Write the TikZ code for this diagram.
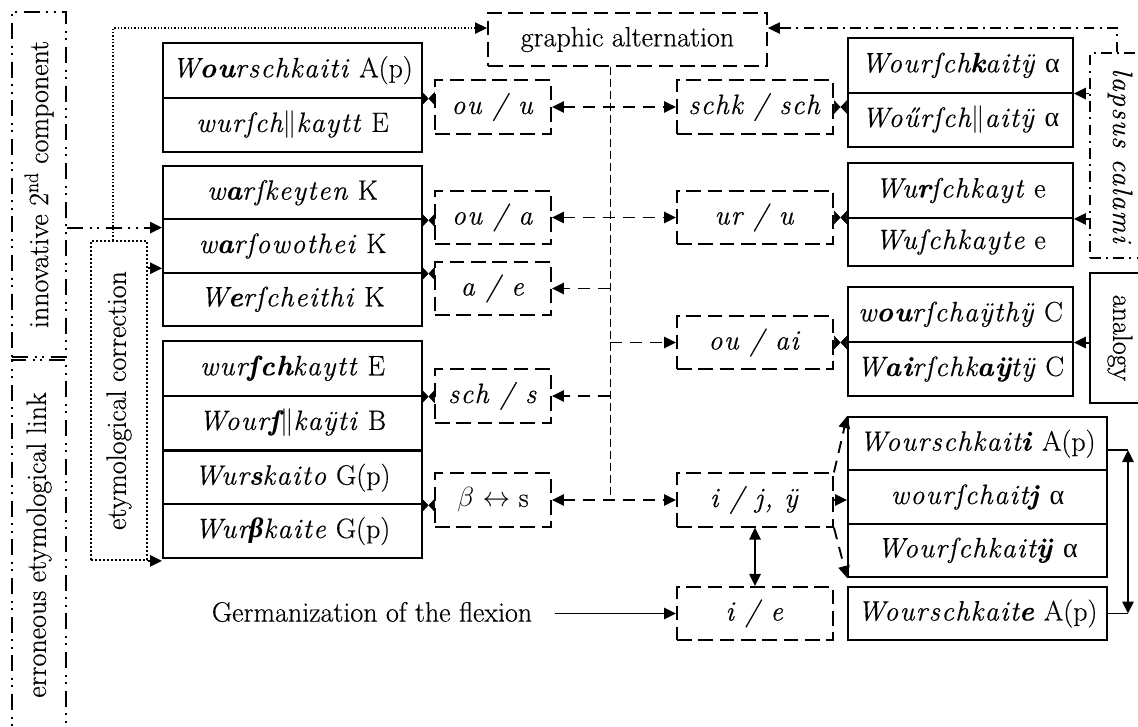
\documentclass[tikz,border=0pt]{standalone}
\usepackage{fontspec}
\setmainfont{Latin Modern Roman}[FakeBold=0.4, ItalicFeatures={LetterSpace=5}, BoldItalicFeatures={LetterSpace=5}]
\newfontfamily\grk{Liberation Serif}
\usetikzlibrary{arrows.meta,calc}
\newcommand\mybow[2]{%
  \draw[bowtip] (#1) -- ($(#1)!0.5!(#2)$);
  \draw[bowtip] (#2) -- ($(#1)!0.5!(#2)$);}
\begin{document}
\begin{tikzpicture}[x=0.75pt,y=-0.75pt,
  every node/.style={font=\fontsize{21}{25}\selectfont, inner sep=0pt},
  >={Triangle[length=9pt,width=8.5pt]},
  cell/.style={draw, line width=1.4pt, minimum height=41pt},
  lw/.style={minimum width=194.25pt},
  aw/.style={minimum width=168.75pt},
  dbox/.style={draw, line width=1.4pt, dash pattern=on 11pt off 5pt, minimum height=40pt},
  dw/.style={minimum width=87pt},
  rw/.style={minimum width=117pt},
  link/.style={line width=1.4pt, dash pattern=on 9pt off 6pt},
  spine/.style={line width=0.7pt, dash pattern=on 6pt off 3pt},
  plain/.style={line width=1.4pt},
  bowtip/.style={line width=0.4pt, -{Triangle[length=4.8pt,width=10pt]}},
  ddot/.style={line width=1.4pt, dash pattern=on 12pt off 5pt on 1.5pt off 4pt on 1.5pt off 5pt},
  dashdot/.style={line width=1.2pt, dash pattern=on 8pt off 4pt on 1.5pt off 4pt},
  dotline/.style={line width=1.3pt, dash pattern=on 1.3pt off 1.7pt},
  thindot/.style={line width=0.9pt, dash pattern=on 1pt off 1.5pt},
]
\useasboundingbox (0,0) rectangle (1138,727);

% left vertical label boxes
\node[draw, ddot, minimum width=40.5pt, minimum height=258.75pt] (IC) at (39,184.5) {\rotatebox{90}{innovative 2\textsuperscript{nd} component}};
\node[draw, ddot, minimum width=40.5pt, minimum height=277.5pt] (ER) at (39,545) {\rotatebox{90}{erroneous etymological link}};
\node[draw, dotline, minimum width=42pt, minimum height=239.25pt] (EC) at (119,400.5) {\rotatebox{90}{etymological correction}};

% left manuscript forms
\node[cell,lw] (L1a) at (292.5,70.3) {\textit{W\textbf{ou}rschkaiti} A(p)};
\node[cell,lw] (L1b) at (292.5,125) {\textit{wurſch$\|$kaytt} E};
\node[cell,lw,minimum height=40pt] (L2a) at (292.5,192.7) {\textit{w\textbf{a}rſkeyten} K};
\node[cell,lw,minimum height=40pt] (L2b) at (292.5,246) {\textit{w\textbf{a}rſowothei} K};
\node[cell,lw,minimum height=40pt] (L2c) at (292.5,299.3) {\textit{W\textbf{e}rſcheithi} K};
\node[cell,lw] (L3a) at (292.5,368.3) {\textit{wur\textbf{ſch}kaytt} E};
\node[cell,lw] (L3b) at (292.5,423) {\textit{Wour\textbf{ſ}$\|$kaÿti} B};
\node[cell,lw,minimum height=40pt] (L4a) at (292.5,477.7) {\textit{Wur\textbf{s}kaito} G(p)};
\node[cell,lw,minimum height=40pt] (L4b) at (292.5,531) {\textit{Wur{\grk\bfseries β}kaite} G(p)};

% graphic alternation
\node[dbox, minimum width=209.25pt, minimum height=39.75pt] (GA) at (627.5,39.5) {graphic alternation};

% middle dashed boxes
\node[dbox,dw] (D1) at (493,107) {\textit{ou / u}};
\node[dbox,dw] (D2) at (493,217.5) {\textit{ou / a}};
\node[dbox,dw] (D3) at (493,288.5) {\textit{a / e}};
\node[dbox,dw] (D4) at (493,396) {\textit{sch / s}};
\node[dbox,dw] (D5) at (493,500) {$\beta$ $\leftrightarrow$ s};
\node[dbox,rw] (R1) at (755,107) {\textit{schk / sch}};
\node[dbox,rw] (R2) at (755,217.5) {\textit{ur / u}};
\node[dbox,rw] (R3) at (755,342.5) {\textit{ou / ai}};
\node[dbox,rw] (R4) at (755,500) {\textit{i / j, ÿ}};
\node[dbox,rw] (R5) at (755,613.5) {\textit{i / e}};

% right manuscript forms
\node[cell,aw] (A1) at (960.5,65.3) {\textit{Wourſch\textbf{k}aitÿ} {\grk α}};
\node[cell,aw] (A2) at (960.5,120) {\textit{Woűrſch$\|$aitÿ} {\grk α}};
\node[cell,aw,minimum height=41.25pt] (E1) at (960.5,190.5) {\textit{Wu\textbf{r}ſchkayt} e};
\node[cell,aw,minimum height=36pt] (E2) at (960.5,242) {\textit{Wuſchkayte} e};
\node[cell,aw] (C1) at (960.5,314.3) {\textit{w\textbf{ou}rſchaÿthÿ} C};
\node[cell,aw] (C2) at (960.5,369) {\textit{W\textbf{ai}rſchk\textbf{aÿ}tÿ} C};
\node[cell,lw,minimum height=40pt] (F1) at (977.5,443.7) {\textit{Wourschkait\textbf{i}} A(p)};
\node[cell,lw,minimum height=40pt] (F2) at (977.5,497) {\textit{wourſchait\textbf{j}} {\grk α}};
\node[cell,lw,minimum height=40pt] (F3) at (977.5,550.3) {\textit{Wourſchkait\textbf{ÿ}} {\grk α}};
\node[cell,lw,minimum height=40pt] (G1) at (977.5,613.5) {\textit{Wourschkait\textbf{e}} A(p)};

% right label boxes
\node[draw, dashdot, minimum width=45pt, minimum height=153.75pt] (LC) at (1120,155.5) {\rotatebox{-90}{\itshape lapsus calami}\hspace{18pt}};
\node[draw, line width=1.2pt, minimum width=45pt, minimum height=97.5pt] (AN) at (1120,338) {\rotatebox{-90}{analogy}\hspace{18pt}};

% Germanization
\node (GZ) at (372,612) {Germanization of the flexion};
\coordinate (gzs) at (555,613.5);
\draw[plain,->] (gzs) -- (R5.west);

% spine and alternation links
\coordinate (sptop) at ([xshift=92.25pt]GA.south west);
\coordinate (spbot) at (sptop |- D5.east);
\draw[spine] (sptop) -- (spbot);
\draw[link,<->] (D1.east) -- (R1.west);
\draw[link,<->] (D2.east) -- (R2.west);
\draw[link,->] (sptop |- D3.east) -- (D3.east);
\draw[link,->] (sptop |- R3.west) -- (R3.west);
\draw[link,->] (sptop |- D4.east) -- (D4.east);
\draw[link,<->] (D5.east) -- (R4.west);

% bow ties
\mybow{L1a.south east}{L1a.south east -| D1.west}
\mybow{L2a.south east}{L2a.south east -| D2.west}
\mybow{L2b.south east}{L2b.south east -| D3.west}
\mybow{L3a.south east}{L3a.south east -| D4.west}
\mybow{L4a.south east}{L4a.south east -| D5.west}
\mybow{R1.east}{R1.east -| A1.west}
\mybow{R2.east}{R2.east -| E1.west}
\mybow{R3.east}{R3.east -| C1.west}

% i / j, y links
\draw[link,->] (R4.north east) -- (F1.north west);
\draw[plain,->] (R4.east) -- (R4.east -| F2.west);
\draw[link,->] (R4.south east) -- (F3.south west);
\draw[plain,<->] (R4.south) -- (R5.north);

% right double arrow
\coordinate (rt) at (1128,450);
\coordinate (rb) at (1128,613.5);
\draw[line width=1pt] (F1.east |- rt) -- (rt);
\draw[line width=1pt] (G1.east) -- (rb);
\draw[plain,<->] (rt) -- (rb);

% lapsus / analogy arrows
\draw[plain,->] (LC.west |- A1.south) -- (A1.south east);
\draw[plain,->] (LC.west |- E1.south) -- (E1.south east);
\draw[plain,->] (AN.west |- C1.south) -- (C1.south east);

% top connectors
\coordinate (gaL) at ([yshift=-12pt]GA.north west);
\coordinate (gaR) at ([yshift=-12pt]GA.north east);
\draw[dashdot,->] ([xshift=-2.25pt]LC.north) |- (gaR);
\draw[thindot,->] ([xshift=-4.5pt]EC.north) |- (gaL);

% left connectors
\coordinate (icT) at ([yshift=-5.5pt]L2a.south west);
\draw[ddot,->] (IC.east |- icT) -- (icT);
\coordinate (ecT) at ([yshift=4pt]L2b.south west);
\draw[dotline,->] (EC.east |- ecT) -- (ecT);
\draw[dotline,->] (EC.south east) -- (EC.south east -| L4b.west);
\end{tikzpicture}
\end{document}
